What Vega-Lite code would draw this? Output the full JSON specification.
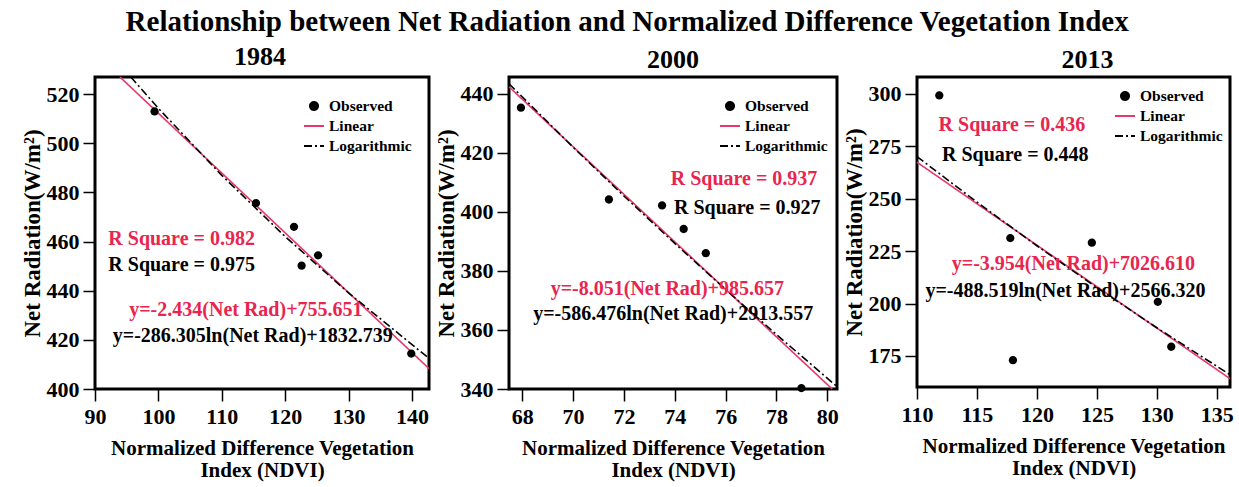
{
  "$schema": "https://vega.github.io/schema/vega-lite/v6.json",
  "background": "white",
  "padding": {"left": 19, "top": 8, "right": 6, "bottom": 4},
  "title": {
    "text": "Relationship between Net Radiation and Normalized Difference Vegetation Index",
    "font": "Liberation Serif", "fontWeight": "bold", "fontSize": 29, "color": "black",
    "anchor": "middle", "frame": "bounds", "offset": 5
  },
  "datasets": {
    "obs": [
      {"year": 1984, "series": "Observed", "ndvi": 99.4, "nr": 513.0},
      {"year": 1984, "series": "Observed", "ndvi": 115.4, "nr": 475.7},
      {"year": 1984, "series": "Observed", "ndvi": 121.4, "nr": 466.0},
      {"year": 1984, "series": "Observed", "ndvi": 122.6, "nr": 450.2},
      {"year": 1984, "series": "Observed", "ndvi": 125.2, "nr": 454.4},
      {"year": 1984, "series": "Observed", "ndvi": 139.9, "nr": 414.4},
      {"year": 2000, "series": "Observed", "ndvi": 67.95, "nr": 435.3},
      {"year": 2000, "series": "Observed", "ndvi": 71.41, "nr": 404.2},
      {"year": 2000, "series": "Observed", "ndvi": 73.5, "nr": 402.2},
      {"year": 2000, "series": "Observed", "ndvi": 74.35, "nr": 394.2},
      {"year": 2000, "series": "Observed", "ndvi": 75.22, "nr": 386.0},
      {"year": 2000, "series": "Observed", "ndvi": 78.98, "nr": 340.3},
      {"year": 2013, "series": "Observed", "ndvi": 111.86, "nr": 299.2},
      {"year": 2013, "series": "Observed", "ndvi": 117.78, "nr": 231.2},
      {"year": 2013, "series": "Observed", "ndvi": 118.0, "nr": 173.0},
      {"year": 2013, "series": "Observed", "ndvi": 124.58, "nr": 229.0},
      {"year": 2013, "series": "Observed", "ndvi": 130.08, "nr": 200.8},
      {"year": 2013, "series": "Observed", "ndvi": 131.2, "nr": 179.4}
    ],
    "fit": [
      {"year": 1984, "series": "Linear", "ndvi": 93.94, "nr": 527.0},
      {"year": 1984, "series": "Linear", "ndvi": 142.7, "nr": 408.32},
      {"year": 1984, "series": "Logarithmic", "ndvi": 95.65, "nr": 527.0},
      {"year": 1984, "series": "Logarithmic", "ndvi": 100, "nr": 514.26},
      {"year": 1984, "series": "Logarithmic", "ndvi": 110, "nr": 486.97},
      {"year": 1984, "series": "Logarithmic", "ndvi": 120, "nr": 462.06},
      {"year": 1984, "series": "Logarithmic", "ndvi": 130, "nr": 439.14},
      {"year": 1984, "series": "Logarithmic", "ndvi": 142.7, "nr": 412.45},
      {"year": 2000, "series": "Linear", "ndvi": 67.48, "nr": 442.38},
      {"year": 2000, "series": "Linear", "ndvi": 80.19, "nr": 340.0},
      {"year": 2000, "series": "Logarithmic", "ndvi": 67.48, "nr": 443.42},
      {"year": 2000, "series": "Logarithmic", "ndvi": 70, "nr": 421.92},
      {"year": 2000, "series": "Logarithmic", "ndvi": 72, "nr": 405.4},
      {"year": 2000, "series": "Logarithmic", "ndvi": 74, "nr": 389.33},
      {"year": 2000, "series": "Logarithmic", "ndvi": 76, "nr": 373.69},
      {"year": 2000, "series": "Logarithmic", "ndvi": 78, "nr": 358.45},
      {"year": 2000, "series": "Logarithmic", "ndvi": 80.38, "nr": 340.83},
      {"year": 2013, "series": "Linear", "ndvi": 110, "nr": 267.36},
      {"year": 2013, "series": "Linear", "ndvi": 136.1, "nr": 164.16},
      {"year": 2013, "series": "Logarithmic", "ndvi": 110, "nr": 270.05},
      {"year": 2013, "series": "Logarithmic", "ndvi": 115, "nr": 248.33},
      {"year": 2013, "series": "Logarithmic", "ndvi": 120, "nr": 227.54},
      {"year": 2013, "series": "Logarithmic", "ndvi": 125, "nr": 207.6},
      {"year": 2013, "series": "Logarithmic", "ndvi": 130, "nr": 188.44},
      {"year": 2013, "series": "Logarithmic", "ndvi": 136.1, "nr": 166.04}
    ],
    "notes": [
      {"year": 1984, "kind": "linear", "ndvi": 92.1, "nr": 460.9, "label": "R Square = 0.982"},
      {"year": 1984, "kind": "log", "ndvi": 92.1, "nr": 450.4, "label": "R Square = 0.975"},
      {"year": 1984, "kind": "linear", "ndvi": 95.4, "nr": 432.2, "label": "y=-2.434(Net Rad)+755.651"},
      {"year": 1984, "kind": "log", "ndvi": 92.8, "nr": 421.4, "label": "y=-286.305ln(Net Rad)+1832.739"},
      {"year": 2000, "kind": "linear", "ndvi": 73.84, "nr": 411.2, "label": "R Square = 0.937"},
      {"year": 2000, "kind": "log", "ndvi": 73.97, "nr": 401.3, "label": "R Square = 0.927"},
      {"year": 2000, "kind": "linear", "ndvi": 69.12, "nr": 373.9, "label": "y=-8.051(Net Rad)+985.657"},
      {"year": 2000, "kind": "log", "ndvi": 68.43, "nr": 365.4, "label": "y=-586.476ln(Net Rad)+2913.557"},
      {"year": 2013, "kind": "linear", "ndvi": 111.8, "nr": 284.9, "label": "R Square = 0.436"},
      {"year": 2013, "kind": "log", "ndvi": 112.08, "nr": 270.6, "label": "R Square = 0.448"},
      {"year": 2013, "kind": "linear", "ndvi": 112.9, "nr": 218.7, "label": "y=-3.954(Net Rad)+7026.610"},
      {"year": 2013, "kind": "log", "ndvi": 110.7, "nr": 205.8, "label": "y=-488.519ln(Net Rad)+2566.320"}
    ]
  },
  "bounds": "flush",
  "spacing": 80,
  "resolve": {"scale": {"color": "independent", "shape": "independent", "strokeDash": "independent"}},
  "hconcat": [
    {
      "width": 334, "height": 312,
      "title": {"text": "1984", "dx": -2},
      "layer": [
        {
          "data": {"name": "fit"},
          "transform": [{"filter": "datum.year == 1984"}],
          "mark": {"type": "line", "strokeWidth": 1.6},
          "encoding": {
            "x": {"field": "ndvi", "type": "quantitative", "scale": {"domain": [90, 142.7], "nice": false, "zero": false}, "axis": {"values": [90, 100, 110, 120, 130, 140]}, "title": ["Normalized Difference Vegetation", "Index (NDVI)"]},
            "y": {"field": "nr", "type": "quantitative", "scale": {"domain": [400, 527], "nice": false, "zero": false}, "axis": {"values": [400, 420, 440, 460, 480, 500, 520]}, "title": "Net Radiation(W/m²)"},
            "color": {"field": "series", "type": "nominal", "scale": {"domain": ["Observed", "Linear", "Logarithmic"], "range": ["black", "#e8386a", "black"]}, "legend": {"orient": "none", "legendX": 208, "legendY": 18}},
            "strokeDash": {"field": "series", "type": "nominal", "scale": {"domain": ["Observed", "Linear", "Logarithmic"], "range": [[1, 0], [1, 0], [8, 3, 2, 3]]}, "legend": {"orient": "none", "legendX": 208, "legendY": 18}}
          }
        },
        {
          "data": {"name": "obs"},
          "transform": [{"filter": "datum.year == 1984"}],
          "mark": {"type": "point", "filled": true, "opacity": 1, "size": 430},
          "encoding": {
            "x": {"field": "ndvi", "type": "quantitative"},
            "y": {"field": "nr", "type": "quantitative"},
            "color": {"field": "series", "type": "nominal"},
            "shape": {"field": "series", "type": "nominal", "scale": {"domain": ["Observed", "Linear", "Logarithmic"], "range": ["M0.4,0A0.4,0.4,0,1,1,-0.4,0A0.4,0.4,0,1,1,0.4,0Z", "stroke", "stroke"]}, "legend": {"orient": "none", "legendX": 208, "legendY": 18}}
          }
        },
        {
          "data": {"name": "notes"},
          "transform": [{"filter": "datum.year == 1984 && datum.kind == 'linear'"}],
          "mark": {"type": "text", "align": "left", "baseline": "middle", "font": "Liberation Serif", "fontWeight": "bold", "fontSize": 20, "color": "#e8254f"},
          "encoding": {"x": {"field": "ndvi", "type": "quantitative"}, "y": {"field": "nr", "type": "quantitative"}, "text": {"field": "label"}}
        },
        {
          "data": {"name": "notes"},
          "transform": [{"filter": "datum.year == 1984 && datum.kind == 'log'"}],
          "mark": {"type": "text", "align": "left", "baseline": "middle", "font": "Liberation Serif", "fontWeight": "bold", "fontSize": 20, "color": "black"},
          "encoding": {"x": {"field": "ndvi", "type": "quantitative"}, "y": {"field": "nr", "type": "quantitative"}, "text": {"field": "label"}}
        }
      ]
    },
    {
      "width": 328, "height": 312,
      "title": {"text": "2000", "dx": 0},
      "layer": [
        {
          "data": {"name": "fit"},
          "transform": [{"filter": "datum.year == 2000"}],
          "mark": {"type": "line", "strokeWidth": 1.6},
          "encoding": {
            "x": {"field": "ndvi", "type": "quantitative", "scale": {"domain": [67.48, 80.38], "nice": false, "zero": false}, "axis": {"values": [68, 70, 72, 74, 76, 78, 80]}, "title": ["Normalized Difference Vegetation", "Index (NDVI)"]},
            "y": {"field": "nr", "type": "quantitative", "scale": {"domain": [340, 445.7], "nice": false, "zero": false}, "axis": {"values": [340, 360, 380, 400, 420, 440]}, "title": "Net Radiation(W/m²)"},
            "color": {"field": "series", "type": "nominal", "scale": {"domain": ["Observed", "Linear", "Logarithmic"], "range": ["black", "#e8386a", "black"]}, "legend": {"orient": "none", "legendX": 210, "legendY": 18}},
            "strokeDash": {"field": "series", "type": "nominal", "scale": {"domain": ["Observed", "Linear", "Logarithmic"], "range": [[1, 0], [1, 0], [8, 3, 2, 3]]}, "legend": {"orient": "none", "legendX": 210, "legendY": 18}}
          }
        },
        {
          "data": {"name": "obs"},
          "transform": [{"filter": "datum.year == 2000"}],
          "mark": {"type": "point", "filled": true, "opacity": 1, "size": 430},
          "encoding": {
            "x": {"field": "ndvi", "type": "quantitative"},
            "y": {"field": "nr", "type": "quantitative"},
            "color": {"field": "series", "type": "nominal"},
            "shape": {"field": "series", "type": "nominal", "scale": {"domain": ["Observed", "Linear", "Logarithmic"], "range": ["M0.4,0A0.4,0.4,0,1,1,-0.4,0A0.4,0.4,0,1,1,0.4,0Z", "stroke", "stroke"]}, "legend": {"orient": "none", "legendX": 210, "legendY": 18}}
          }
        },
        {
          "data": {"name": "notes"},
          "transform": [{"filter": "datum.year == 2000 && datum.kind == 'linear'"}],
          "mark": {"type": "text", "align": "left", "baseline": "middle", "font": "Liberation Serif", "fontWeight": "bold", "fontSize": 20, "color": "#e8254f"},
          "encoding": {"x": {"field": "ndvi", "type": "quantitative"}, "y": {"field": "nr", "type": "quantitative"}, "text": {"field": "label"}}
        },
        {
          "data": {"name": "notes"},
          "transform": [{"filter": "datum.year == 2000 && datum.kind == 'log'"}],
          "mark": {"type": "text", "align": "left", "baseline": "middle", "font": "Liberation Serif", "fontWeight": "bold", "fontSize": 20, "color": "black"},
          "encoding": {"x": {"field": "ndvi", "type": "quantitative"}, "y": {"field": "nr", "type": "quantitative"}, "text": {"field": "label"}}
        }
      ]
    },
    {
      "width": 313, "height": 310,
      "title": {"text": "2013", "dx": 14},
      "layer": [
        {
          "data": {"name": "fit"},
          "transform": [{"filter": "datum.year == 2013"}],
          "mark": {"type": "line", "strokeWidth": 1.6},
          "encoding": {
            "x": {"field": "ndvi", "type": "quantitative", "scale": {"domain": [110, 136.1], "nice": false, "zero": false}, "axis": {"values": [110, 115, 120, 125, 130, 135]}, "title": ["Normalized Difference Vegetation", "Index (NDVI)"]},
            "y": {"field": "nr", "type": "quantitative", "scale": {"domain": [160.2, 308], "nice": false, "zero": false}, "axis": {"values": [175, 200, 225, 250, 275, 300]}, "title": "Net Radiation(W/m²)"},
            "color": {"field": "series", "type": "nominal", "scale": {"domain": ["Observed", "Linear", "Logarithmic"], "range": ["black", "#e8386a", "black"]}, "legend": {"orient": "none", "legendX": 197, "legendY": 8}},
            "strokeDash": {"field": "series", "type": "nominal", "scale": {"domain": ["Observed", "Linear", "Logarithmic"], "range": [[1, 0], [1, 0], [8, 3, 2, 3]]}, "legend": {"orient": "none", "legendX": 197, "legendY": 8}}
          }
        },
        {
          "data": {"name": "obs"},
          "transform": [{"filter": "datum.year == 2013"}],
          "mark": {"type": "point", "filled": true, "opacity": 1, "size": 430},
          "encoding": {
            "x": {"field": "ndvi", "type": "quantitative"},
            "y": {"field": "nr", "type": "quantitative"},
            "color": {"field": "series", "type": "nominal"},
            "shape": {"field": "series", "type": "nominal", "scale": {"domain": ["Observed", "Linear", "Logarithmic"], "range": ["M0.4,0A0.4,0.4,0,1,1,-0.4,0A0.4,0.4,0,1,1,0.4,0Z", "stroke", "stroke"]}, "legend": {"orient": "none", "legendX": 197, "legendY": 8}}
          }
        },
        {
          "data": {"name": "notes"},
          "transform": [{"filter": "datum.year == 2013 && datum.kind == 'linear'"}],
          "mark": {"type": "text", "align": "left", "baseline": "middle", "font": "Liberation Serif", "fontWeight": "bold", "fontSize": 20, "color": "#e8254f"},
          "encoding": {"x": {"field": "ndvi", "type": "quantitative"}, "y": {"field": "nr", "type": "quantitative"}, "text": {"field": "label"}}
        },
        {
          "data": {"name": "notes"},
          "transform": [{"filter": "datum.year == 2013 && datum.kind == 'log'"}],
          "mark": {"type": "text", "align": "left", "baseline": "middle", "font": "Liberation Serif", "fontWeight": "bold", "fontSize": 20, "color": "black"},
          "encoding": {"x": {"field": "ndvi", "type": "quantitative"}, "y": {"field": "nr", "type": "quantitative"}, "text": {"field": "label"}}
        }
      ]
    }
  ],
  "config": {
    "view": {"stroke": "black", "strokeWidth": 3},
    "title": {"font": "Liberation Serif", "fontWeight": "bold", "fontSize": 26, "color": "black", "anchor": "middle", "frame": "group", "offset": 4},
    "axis": {
      "grid": false,
      "domain": false,
      "tickColor": "black", "tickWidth": 1.5, "tickSize": 12,
      "labelFont": "Liberation Serif", "labelFontWeight": "bold", "labelFontSize": 22, "labelColor": "black",
      "titleFont": "Liberation Serif", "titleFontWeight": "bold", "titleColor": "black"
    },
    "axisX": {"labelPadding": 5, "titleFontSize": 21, "titleLineHeight": 22, "titlePadding": 10, "labelFlush": false},
    "axisY": {"labelPadding": 4, "titleFontSize": 23, "titlePadding": 2, "labelFlush": false},
    "legend": {
      "title": null,
      "labelFont": "Liberation Serif", "labelFontWeight": "bold", "labelFontSize": 15.5, "labelColor": "black",
      "symbolSize": 400, "symbolStrokeWidth": 2, "rowPadding": 0, "labelOffset": 4, "padding": 0
    }
  }
}
